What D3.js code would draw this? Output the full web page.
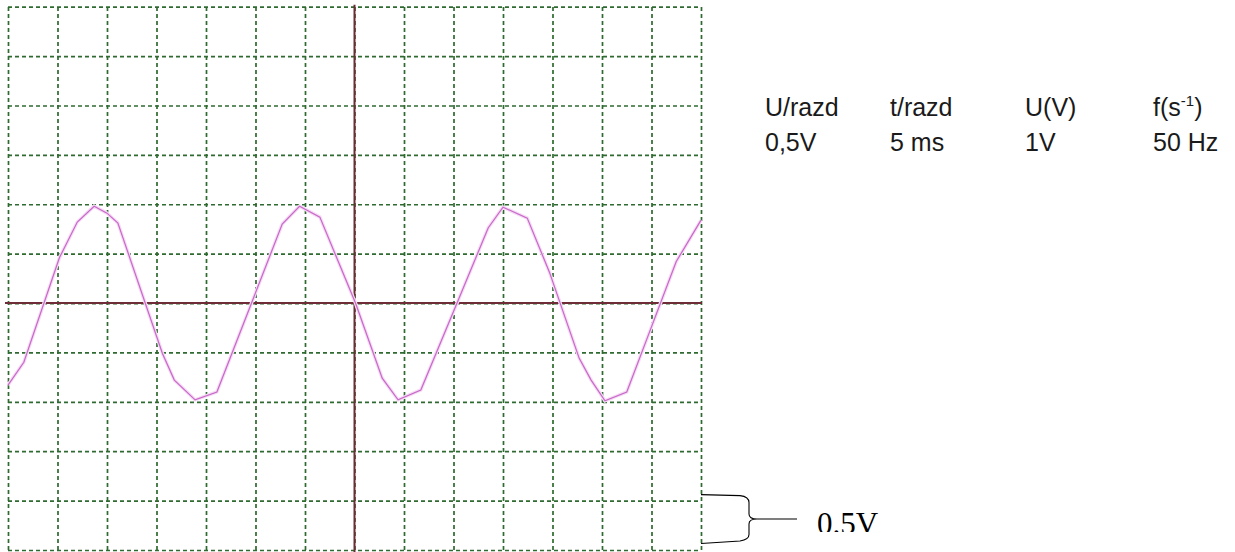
<!DOCTYPE html>
<html>
<head>
<meta charset="utf-8">
<script src="https://cdn.jsdelivr.net/npm/d3@7"></script>
<style>
  html, body { margin: 0; padding: 0; background: #fff; }
  svg { display: block; }
</style>
</head>
<body>
<svg id="chart" width="1235" height="552"></svg>
<script>
// time in ms (5 ms / division), voltage in V (0.5 V / division)
const timeMs = [-35, -33.4, -29.8, -28.0, -26.3, -25.0, -23.9, -19.4, -18.2, -16.1, -13.9, -10.4,
  -7.3, -5.55, -3.5, 0.1, 2.8, 4.4, 6.7, 10.4, 13.5, 15.0, 17.45, 19.7, 22.7, 23.9, 25.3, 27.5,
  29.7, 32.5, 35];
const voltage = [-0.83, -0.60, 0.46, 0.82, 0.98, 0.91, 0.81, -0.51, -0.78, -0.98, -0.90, 0.0,
  0.80, 0.98, 0.87, 0.0, -0.76, -0.98, -0.88, 0.01, 0.76, 0.97, 0.86, 0.31, -0.56, -0.78, -0.99, -0.90,
  -0.32, 0.42, 0.84];

const timeTicks = [-35, -30, -25, -20, -15, -10, -5, 0, 5, 10, 15, 20, 25, 30, 35];
const voltTicks = [3, 2.5, 2, 1.5, 1, 0.5, 0, -0.5, -1, -1.5, -2, -2.5];

const headers = ['U/razd', 't/razd', 'U(V)', 'f(s'];
const values = ['0,5V', '5 ms', '1V', '50 Hz'];
const scaleLabel = '0.5V';

const svg = d3.select('#chart');

const x = d3.scaleLinear().domain([-35, 35]).range([8, 701]);
const y = d3.scaleLinear().domain([-2.5, 3]).range([550, 6.7]);

// dashed green grid
const grid = svg.append('g').attr('class', 'grid');

grid.append('g')
  .attr('transform', `translate(0,${y(-2.5)})`)
  .call(d3.axisBottom(x).tickValues(timeTicks).tickSize(-(y(-2.5) - y(3))).tickFormat(''))
  .call(g => g.select('.domain').remove());

grid.append('g')
  .attr('transform', `translate(${x(-35)},0)`)
  .call(d3.axisLeft(y).tickValues(voltTicks).tickSize(-(x(35) - x(-35))).tickFormat(''))
  .call(g => g.select('.domain').remove());

grid.selectAll('line')
  .attr('stroke', '#2f6a30')
  .attr('stroke-width', 1.7)
  .attr('stroke-dasharray', '4,3');

// main axes
svg.append('line')
  .attr('x1', x(-35) - 3).attr('x2', x(35) + 1)
  .attr('y1', y(0)).attr('y2', y(0))
  .attr('stroke', '#6e2c36').attr('stroke-width', 2);

svg.append('line')
  .attr('x1', x(0)).attr('x2', x(0))
  .attr('y1', y(3) - 2).attr('y2', 552)
  .attr('stroke', '#6e2c36').attr('stroke-width', 2);

// signal trace
const points = timeMs.map((t, i) => [t, voltage[i]]);
const line = d3.line().x(d => x(d[0])).y(d => y(d[1]));

svg.append('path')
  .datum(points)
  .attr('fill', 'none')
  .attr('stroke', '#f5dcf5')
  .attr('stroke-width', 3.5)
  .attr('d', line);

svg.append('path')
  .datum(points)
  .attr('fill', 'none')
  .attr('stroke', '#c868c8')
  .attr('stroke-width', 1.2)
  .attr('d', line);

// table of settings
const table = svg.append('g')
  .attr('font-family', '"Liberation Sans", Arial, sans-serif')
  .attr('font-size', 25)
  .attr('fill', '#1a1a1a');

const colX = [765, 890, 1025, 1153];

table.selectAll('text.head')
  .data(headers)
  .join('text')
  .attr('class', 'head')
  .attr('x', (d, i) => colX[i])
  .attr('y', 116)
  .each(function (d, i) {
    const t = d3.select(this);
    t.append('tspan').text(d);
    if (i === 3) {
      t.append('tspan').attr('font-size', 15).attr('dy', -10).text('-1');
      t.append('tspan').attr('dy', 10).text(')');
    }
  });

table.selectAll('text.val')
  .data(values)
  .join('text')
  .attr('class', 'val')
  .attr('x', (d, i) => colX[i])
  .attr('y', 151)
  .text(d => d);

// brace marking one division
const braceTop = y(-2) - 6;
const braceBot = y(-2.5) - 6.5;
const braceMid = (braceTop + braceBot) / 2;
const bx = 749;
const brace = `M ${x(35)} ${braceTop} L ${bx - 9} ${braceTop + 1} Q ${bx} ${braceTop + 2} ${bx} ${braceTop + 8}`
  + ` L ${bx} ${braceMid - 5} Q ${bx} ${braceMid} ${bx + 8} ${braceMid} L ${bx + 48} ${braceMid}`
  + ` M ${x(35)} ${braceBot} L ${bx - 9} ${braceBot - 2.5} Q ${bx} ${braceBot - 4} ${bx} ${braceBot - 9}`
  + ` L ${bx} ${braceMid + 5} Q ${bx} ${braceMid} ${bx + 8} ${braceMid}`;

svg.append('path')
  .attr('d', brace)
  .attr('fill', 'none')
  .attr('stroke', '#000')
  .attr('stroke-width', 1.1);

svg.append('clipPath').attr('id', 'lblclip')
  .append('rect').attr('x', 800).attr('y', 490).attr('width', 120).attr('height', 42);

svg.append('text')
  .attr('clip-path', 'url(#lblclip)')
  .attr('x', 817)
  .attr('y', 534)
  .attr('font-family', '"Liberation Serif", "Times New Roman", serif')
  .attr('font-size', 31)
  .attr('fill', '#000')
  .text(scaleLabel);
</script>
</body>
</html>
